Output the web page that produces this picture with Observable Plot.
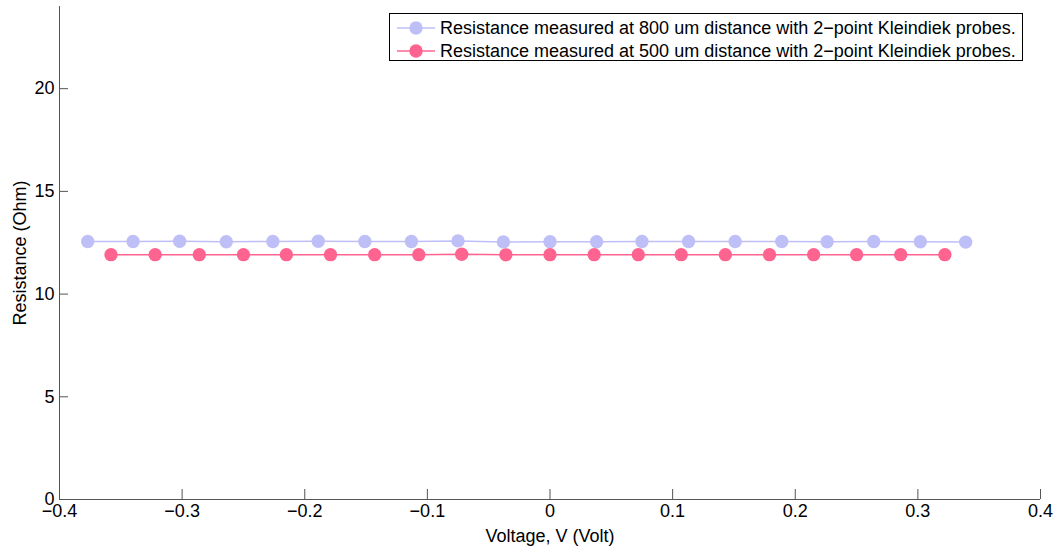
<!DOCTYPE html>
<html>
<head>
<meta charset="utf-8">
<script src="https://cdn.jsdelivr.net/npm/d3@7"></script>
<script src="https://cdn.jsdelivr.net/npm/@observablehq/plot@0.6"></script>
<style>
  html, body { margin: 0; padding: 0; background: #fff; }
  #wrap { position: relative; width: 1064px; height: 548px; font-family: "Liberation Sans", Arial, sans-serif; }
  #legend { position: absolute; left: 389px; top: 13px; width: 632px; height: 46px; border: 1px solid #000; background: #fff; font-size: 18px; color: #000; }
  .row { position: absolute; left: 0; height: 22px; display: flex; align-items: center; white-space: nowrap; }
  .row svg { margin-left: 7px; margin-right: 5px; }
</style>
</head>
<body>
<div id="wrap"><div id="legend"></div></div>
<script>
const seriesNames = [
  "Resistance measured at 800 um distance with 2\u2212point Kleindiek probes.",
  "Resistance measured at 500 um distance with 2\u2212point Kleindiek probes."
];
const seriesColors = ["#bfbff8", "#ff6491"];

const voltage800 = [-0.377, -0.340, -0.302, -0.264, -0.226, -0.189, -0.151, -0.113, -0.075, -0.038,
                     0.000, 0.038, 0.075, 0.113, 0.151, 0.189, 0.226, 0.264, 0.302, 0.339];
const resistance800 = [12.56, 12.56, 12.57, 12.55, 12.56, 12.57, 12.56, 12.56, 12.59, 12.54,
                       12.55, 12.55, 12.56, 12.56, 12.56, 12.56, 12.55, 12.56, 12.55, 12.53];

const voltage500 = [-0.358, -0.322, -0.286, -0.250, -0.215, -0.179, -0.143, -0.107, -0.072, -0.036,
                     0.000, 0.036, 0.072, 0.107, 0.143, 0.179, 0.215, 0.250, 0.286, 0.322];
const resistance500 = [11.92, 11.92, 11.92, 11.92, 11.92, 11.92, 11.92, 11.92, 11.94, 11.91,
                       11.92, 11.92, 11.92, 11.92, 11.92, 11.92, 11.92, 11.92, 11.92, 11.92];

const xTicks = [-0.4, -0.3, -0.2, -0.1, 0, 0.1, 0.2, 0.3, 0.4];
const yTicks = [0, 5, 10, 15, 20];
const xLabel = "Voltage, V (Volt)";
const yLabel = "Resistance (Ohm)";

const data = [
  ...voltage800.map((v, i) => ({series: seriesNames[0], V: v, R: resistance800[i]})),
  ...voltage500.map((v, i) => ({series: seriesNames[1], V: v, R: resistance500[i]}))
];

const fmt = d => d === 0 ? "0" : d3.format("")(d);

const chart = Plot.plot({
  width: 1064,
  height: 548,
  marginLeft: 59,
  marginRight: 24,
  marginTop: 6,
  marginBottom: 49,
  style: {fontFamily: "'Liberation Sans', Arial, sans-serif", fontSize: "18px", color: "#000", background: "#fff"},
  x: {domain: [-0.4, 0.4]},
  y: {domain: [0, 24]},
  color: {domain: seriesNames, range: seriesColors},
  marks: [
    Plot.axisX({ticks: xTicks, tickFormat: fmt, tickSize: -10, tickPadding: 15, stroke: "#555", fill: "#000", label: xLabel, labelAnchor: "center", labelOffset: 42, labelArrow: "none"}),
    Plot.axisY({ticks: yTicks, tickFormat: fmt, tickSize: -9, tickPadding: 14, stroke: "#555", fill: "#000", label: yLabel, labelAnchor: "center", labelOffset: 46, labelArrow: "none"}),
    Plot.ruleY([0], {stroke: "#555"}),
    Plot.ruleX([-0.4], {stroke: "#555"}),
    Plot.line(data, {x: "V", y: "R", z: "series", stroke: "series", strokeWidth: 1.5}),
    Plot.dot(data, {x: "V", y: "R", fill: "series", r: 6.7, stroke: null})
  ]
});
document.getElementById("wrap").prepend(chart);

const legend = document.getElementById("legend");
seriesNames.forEach((name, i) => {
  const row = document.createElement("div");
  row.className = "row";
  row.style.top = (3 + i * 23) + "px";
  row.innerHTML = `<svg width="38" height="16"><line x1="0" y1="8" x2="38" y2="8" stroke="${seriesColors[i]}" stroke-width="1.5"/><circle cx="19" cy="8" r="6.7" fill="${seriesColors[i]}"/></svg><span>${name}</span>`;
  legend.appendChild(row);
});
</script>
</body>
</html>
